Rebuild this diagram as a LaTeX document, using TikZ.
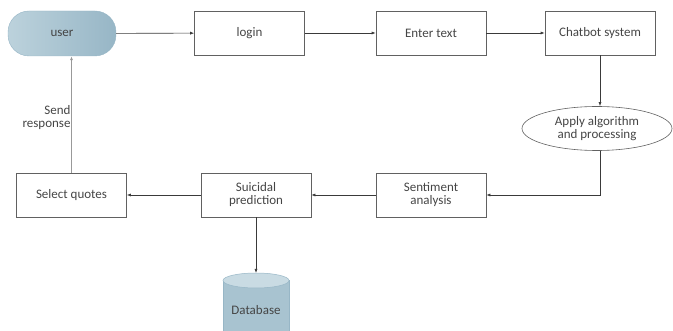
\documentclass[tikz,border=0pt]{standalone}
\usepackage{fontspec}
\setmainfont{Carlito}
\usetikzlibrary{shapes.geometric,arrows.meta}
\definecolor{txt}{HTML}{454545}
\definecolor{ln}{HTML}{3A3A3A}
\definecolor{ublue}{HTML}{A8C3D0}
\definecolor{ublueL}{HTML}{BCD2DC}
\definecolor{ublueD}{HTML}{97B6C6}
\begin{document}
\begin{tikzpicture}[x=1pt,y=-1pt,
  every node/.style={font=\fontsize{13}{15}\selectfont, text=txt, align=center},
  box/.style={draw=ln!80, line width=0.6pt, minimum width=110pt, minimum height=44pt, inner sep=0pt},
  conn/.style={draw=ln, line width=0.6pt, -{Latex[length=4pt,width=3pt]}},
  connlight/.style={draw=gray!80, line width=1pt, -{Latex[length=4pt,width=3pt]}}
]
\useasboundingbox (0,0) rectangle (673,331);
\clip (0,0) rectangle (673,331);

\node[rounded corners=21pt, minimum width=108pt, minimum height=45pt, inner sep=0pt,
      left color=ublueL, right color=ublueD, draw=ublueD] (user) at (62,33.5) {user};
\node[box] (login) at (249.5,33) {login};
\node[box] (enter) at (431,33) {Enter text};
\node[box] (chat) at (600,33) {Chatbot system};
\node[ellipse, draw=ln!80, line width=0.6pt, minimum width=150pt, minimum height=44pt, inner sep=0pt] (algo) at (597,128.5) {Apply algorithm\\[-2pt]and processing};
\node[box] (senti) at (431,195) {Sentiment\\[-2pt]analysis};
\node[box] (pred) at (256,195) {Suicidal\\[-2pt]prediction};
\node[box] (quotes) at (71.5,195) {Select quotes};

% database cylinder
\fill[ublue] (223,280.5) -- (223,340) -- (289,340) -- (289,280.5) -- cycle;
\draw[ublueD, line width=0.5pt] (223,280.5) -- (223,340) (289,280.5) -- (289,340);
\filldraw[fill=ublueL!80!white, draw=ublueD, line width=0.5pt] (256,280.5) ellipse [x radius=33pt, y radius=7.5pt];
\coordinate (dbtop) at (256,273);
\node (db) at (256,310) {Database};

\draw[conn] (user) -- (login);
\draw[conn] (login) -- (enter);
\draw[conn] (enter) -- (chat);
\draw[conn] (chat.south) -- (algo.north -| chat.south);
\draw[conn] (algo.south -| chat.south) |- (senti.east);
\draw[conn] (senti) -- (pred);
\draw[conn] (pred) -- (quotes);
\draw[conn] (pred.south) -- (dbtop);
\draw[connlight] (quotes.north) -- (user.south -| quotes.north)
  node[pos=0.47, left, inner sep=0.5pt, align=right] {Send\\[-2pt]response};
\end{tikzpicture}
\end{document}
